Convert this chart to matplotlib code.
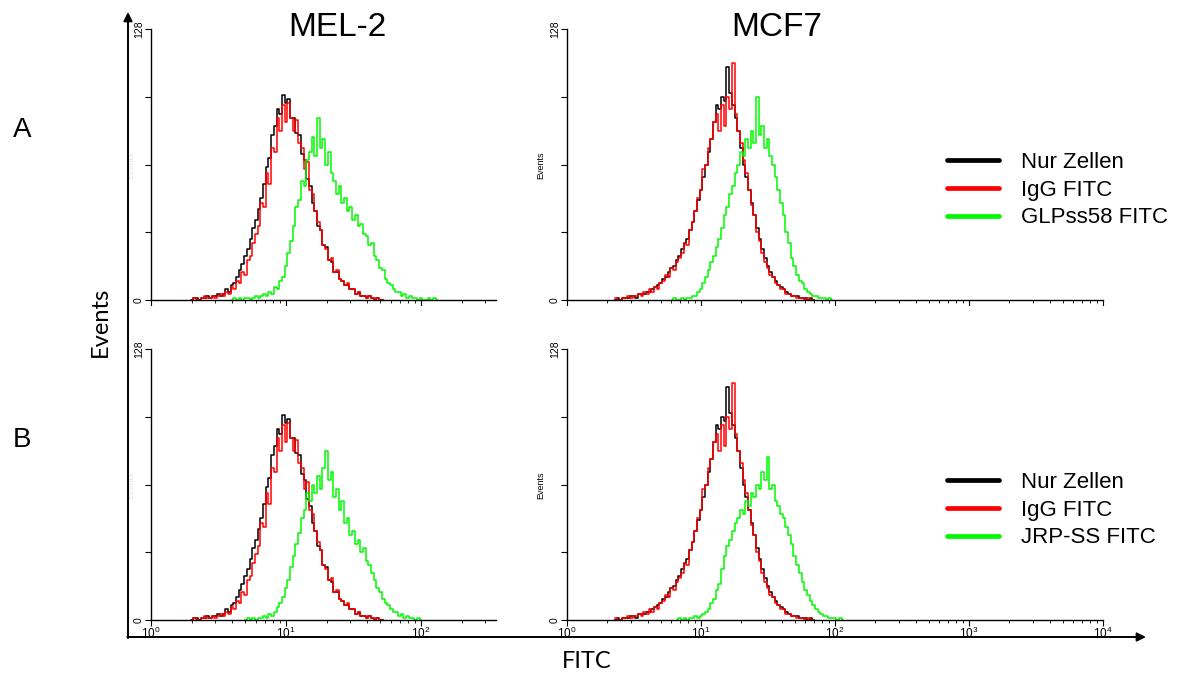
import numpy as np
import matplotlib
matplotlib.use("Agg")
import matplotlib.pyplot as plt
from matplotlib.lines import Line2D
from matplotlib.patches import Rectangle
from matplotlib.ticker import LogLocator, NullFormatter

plt.rcParams['font.family'] = ['Liberation Sans', 'DejaVu Sans']

W, H = 1184, 673

# histogram channels: log10(FITC) of the first channel, channel width in decades
STEP = 0.02

# MEL-2 controls (same acquisition shown in A and B)
mel_ctrl_start = 0.30
mel_black = [0, 1, 1, 0, 1, 1, 2, 1, 2, 2,
             3, 2, 3, 5, 4, 7, 8, 11, 14, 17,
             21, 24, 29, 34, 38, 43, 48, 55, 63, 67,
             78, 82, 90, 88, 97, 93, 95, 86, 86, 79,
             78, 69, 66, 57, 54, 46, 42, 35, 33, 26,
             25, 19, 18, 13, 13, 10, 9, 7, 7, 5,
             5, 3, 4, 2, 2, 1, 2, 1, 0, 1,
             0, 0]
mel_red = [0, 1, 0, 0, 1, 2, 1, 1, 2, 1,
           2, 3, 2, 4, 3, 6, 5, 9, 8, 13,
           12, 19, 21, 27, 31, 35, 46, 44, 60, 55,
           72, 70, 86, 80, 92, 84, 93, 86, 80, 85,
           74, 72, 62, 65, 52, 50, 42, 37, 33, 26,
           24, 19, 20, 13, 14, 10, 9, 7, 8, 5,
           5, 3, 4, 2, 2, 1, 2, 1, 0, 1,
           0, 0]
mel_glp_start = 0.60
mel_glp = [0, 1, 0, 1, 0, 1, 1, 0, 1, 2,
           1, 2, 3, 2, 4, 3, 6, 5, 9, 11,
           16, 22, 28, 35, 44, 47, 56, 54, 66, 70,
           77, 68, 86, 72, 76, 64, 70, 60, 56, 50,
           54, 46, 48, 42, 44, 38, 40, 35, 36, 31,
           30, 26, 27, 21, 19, 15, 14, 10, 8, 7,
           5, 4, 4, 2, 3, 1, 2, 1, 1, 0,
           1, 0, 0, 1, 0, 1, 0]
mel_jrp_start = 0.70
mel_jrp = [0, 1, 0, 1, 0, 1, 1, 2, 1, 3,
           2, 4, 6, 8, 11, 15, 19, 25, 30, 36,
           41, 48, 52, 60, 56, 64, 60, 68, 62, 72,
           80, 66, 70, 58, 62, 52, 56, 46, 48, 40,
           42, 36, 38, 32, 34, 28, 26, 22, 19, 15,
           13, 10, 8, 7, 5, 4, 4, 2, 3, 1,
           2, 1, 1, 0, 1, 0]

# MCF7 controls
mcf_ctrl_start = 0.36
mcf_black = [0, 1, 0, 1, 1, 1, 2, 2, 1, 3,
             3, 3, 4, 4, 5, 6, 7, 8, 10, 11,
             13, 15, 16, 19, 21, 24, 27, 29, 33, 37,
             42, 47, 52, 58, 64, 70, 76, 84, 92, 90,
             96, 94, 110, 98, 92, 86, 80, 72, 64, 58,
             52, 46, 40, 34, 29, 24, 20, 16, 13, 11,
             9, 7, 6, 5, 4, 3, 2, 2, 2, 1,
             1, 1, 0, 1, 0]
mcf_red = [1, 0, 0, 1, 1, 2, 1, 2, 2, 3,
           2, 4, 3, 5, 4, 6, 5, 8, 9, 12,
           11, 15, 14, 18, 20, 22, 27, 26, 33, 37,
           42, 48, 52, 62, 64, 72, 76, 84, 88, 80,
           92, 82, 96, 90, 112, 88, 80, 74, 66, 60,
           52, 45, 40, 32, 28, 22, 18, 15, 12, 11,
           8, 7, 5, 5, 3, 3, 2, 2, 1, 1,
           1, 0, 1, 0, 0]
mcf_glp_start = 0.78
mcf_glp = [0, 1, 0, 0, 1, 0, 1, 1, 2, 2,
           4, 5, 8, 11, 14, 18, 21, 25, 29, 34,
           40, 44, 50, 54, 60, 64, 70, 68, 76, 72,
           80, 74, 96, 78, 82, 72, 76, 68, 64, 58,
           52, 46, 40, 32, 27, 20, 16, 12, 9, 8,
           5, 4, 3, 2, 2, 1, 1, 1, 0, 1,
           0]
mcf_jrp_start = 0.82
mcf_jrp = [0, 1, 0, 1, 0, 1, 1, 2, 1, 2,
           3, 4, 5, 8, 10, 14, 17, 24, 30, 35,
           38, 42, 46, 48, 52, 50, 56, 54, 60, 58,
           64, 62, 70, 66, 77, 62, 64, 56, 54, 50,
           48, 44, 40, 36, 30, 26, 22, 18, 14, 12,
           9, 7, 5, 4, 3, 2, 2, 1, 1, 1,
           0, 1, 0]

cell_lines = ["MEL-2", "MCF7"]
row_labels = ["A", "B"]
labels_a = ["Nur Zellen", "IgG FITC", "GLPss58 FITC"]
labels_b = ["Nur Zellen", "IgG FITC", "JRP-SS FITC"]
colors = ["#000000", "#ff0000", "#00f800"]


def channels(start, counts):
    return 10 ** (start + STEP * np.arange(len(counts)))


def px_axes(fig, left, right, top, bottom):
    return fig.add_axes([left / W, 1 - bottom / H, (right - left) / W, (bottom - top) / H])


def style(ax, xmax):
    ax.set_xscale('log')
    ax.set_xlim(1, xmax)
    ax.set_ylim(0, 128)
    ax.patch.set_alpha(0)
    for s in ('top', 'right'):
        ax.spines[s].set_visible(False)
    for s in ('left', 'bottom'):
        ax.spines[s].set_linewidth(1.0)
    ax.set_yticks([0, 32, 64, 96, 128])
    ax.set_yticklabels(['0', '', '', '', '128'], rotation=90, va='center', fontsize=7.5)
    ax.tick_params(axis='y', length=4, width=0.8, pad=1)
    ax.xaxis.set_major_locator(LogLocator(base=10, numticks=10))
    ax.xaxis.set_minor_locator(LogLocator(base=10, subs=range(2, 10), numticks=10))
    ax.xaxis.set_minor_formatter(NullFormatter())
    ax.tick_params(axis='x', which='major', length=4, width=0.8, labelsize=8.5, pad=0.5)
    ax.tick_params(axis='x', which='minor', length=2.5, width=0.6)


def hist(ax, start, counts, color):
    ax.plot(channels(start, counts), counts, drawstyle='steps-mid', color=color, lw=1.1)


fig = plt.figure(figsize=(W / 100, H / 100), dpi=100)

mel_a = px_axes(fig, 151, 496, 29, 300)
mel_b = px_axes(fig, 151, 496, 349, 620)
mcf_a = px_axes(fig, 567, 1103, 29, 300)
mcf_b = px_axes(fig, 567, 1103, 349, 620)

for ax, green_start, green in [(mel_a, mel_glp_start, mel_glp), (mel_b, mel_jrp_start, mel_jrp)]:
    style(ax, 10 ** 2.556)
    hist(ax, mel_ctrl_start, mel_black, colors[0])
    hist(ax, mel_ctrl_start, mel_red, colors[1])
    hist(ax, green_start, green, colors[2])

for ax, green_start, green, labels in [(mcf_a, mcf_glp_start, mcf_glp, labels_a),
                                       (mcf_b, mcf_jrp_start, mcf_jrp, labels_b)]:
    style(ax, 10 ** 4)
    hist(ax, mcf_ctrl_start, mcf_black, colors[0])
    hist(ax, mcf_ctrl_start, mcf_red, colors[1])
    hist(ax, green_start, green, colors[2])

# legends
for ax, labels, top in [(mcf_a, labels_a, 152), (mcf_b, labels_b, 472)]:
    handles = [Line2D([], [], color=c, lw=3.4, solid_capstyle='round') for c in colors]
    ax.legend(handles, labels, loc='upper left', bbox_to_anchor=(947 / W, 1 - top / H),
              bbox_transform=fig.transFigure, frameon=False, fontsize=16,
              handlelength=2.35, handletextpad=1.0, labelspacing=0.3,
              borderpad=0, borderaxespad=0)

# overlay in pixel coordinates for the composite decorations
ov = fig.add_axes([0, 0, 1, 1])
ov.set_xlim(0, W)
ov.set_ylim(H, 0)
ov.axis('off')

# the top row's tick labels are cut off in the composite
ov.add_patch(Rectangle((136, 306), 1125 - 136, 32, facecolor='white', edgecolor='none'))

# faint axis titles from the cytometer export
for y in (165, 485):
    ov.text(131, y, 'Events', rotation=90, fontsize=6.5, color='#e4e4e4', ha='center', va='center')
    ov.text(541, y, 'Events', rotation=90, fontsize=6.5, ha='center', va='center')

ov.annotate('', xy=(128, 12), xytext=(128, 638),
            arrowprops=dict(arrowstyle='-|>', lw=1.4, color='black', mutation_scale=13,
                            shrinkA=0, shrinkB=0))
ov.annotate('', xy=(1146, 637), xytext=(127.3, 637),
            arrowprops=dict(arrowstyle='-|>', lw=1.4, color='black', mutation_scale=13,
                            shrinkA=0, shrinkB=0))

ov.text(337, 28, cell_lines[0], fontsize=24, ha='center', va='center')
ov.text(777, 28, cell_lines[1], fontsize=24, ha='center', va='center')
ov.text(22, 130, row_labels[0], fontsize=20, ha='center', va='center')
ov.text(22, 440, row_labels[1], fontsize=20, ha='center', va='center')
ov.text(100, 322, 'Events', fontsize=17, rotation=90, ha='center', va='center', family=['Lato', 'DejaVu Sans'])
ov.text(587, 661, 'FITC', fontsize=17, ha='center', va='center', family=['Lato', 'DejaVu Sans'])

fig.savefig('out.png', dpi=100)
